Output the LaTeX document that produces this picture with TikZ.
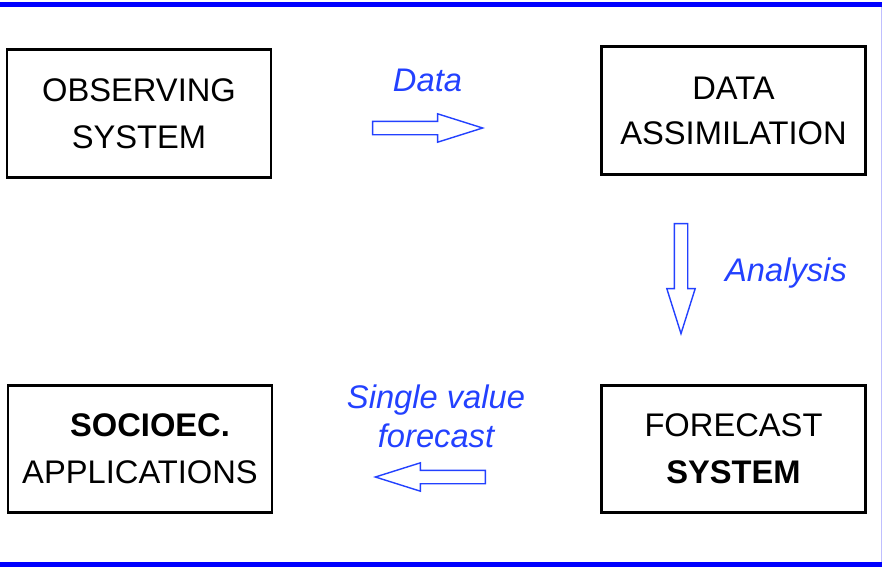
\documentclass[tikz,border=0pt]{standalone}
\usepackage{fontspec}
\setmainfont{Liberation Sans}
\usetikzlibrary{
  shapes.arrows
}
\definecolor{labelblue}{RGB}{35,65,255}

\begin{document}
\begin{tikzpicture}[
  stage/.style={draw, line width=1.6pt, minimum width=5.28cm, minimum height=2.55cm,
    align=center, font=\fontsize{18.6}{26.7}\selectfont},
  flowlabel/.style={text=labelblue, align=center, font=\fontsize{18.6}{22}\selectfont\itshape},
  flowarrow/.style={single arrow, draw=labelblue, fill=white, line width=0.8pt,
    inner xsep=0pt, inner ysep=0.12cm, minimum height=2.2cm,
    single arrow head extend=0.15cm, single arrow tip angle=35}
]
  \def\Xa{2.8};
  \def\Xb{14.67};
  \def\Ytop{9.12};
  \def\Ybot{2.38};
        \useasboundingbox (0,0) rectangle (17.64,11.36);

        % frame bands
        \fill[blue] (0,11.22) rectangle (17.64,11.32);
        \fill[blue] (0,0.02) rectangle (17.64,0.12);
        \draw[blue!25, line width=0.4pt] (17.62,0.12) -- (17.62,11.22);

        \node[stage] (obs) at (\Xa - 0.02, \Ytop - 0.03) {OBSERVING\\SYSTEM};
        \node[stage] (assim) at (\Xb, \Ytop + 0.03) {DATA\\[-1pt]ASSIMILATION};
        \node[stage] (fcst) at (\Xb, \Ybot) {FORECAST\\\textbf{SYSTEM}};
        \node[stage] (socio) at (\Xa, \Ybot) {\hspace*{0.4cm}\textbf{SOCIOEC.}\\APPLICATIONS};

        \node[flowarrow] (dataarrow) at (8.34, 8.8) {};
        \node[flowlabel, anchor=base] (datalabel) at (8.55, 9.53) {Data};

        \node[flowarrow, rotate=-90] (anaarrow) at (13.62, 6.0) {};
        \node[flowlabel, anchor=base] (analabel) at (15.72, 5.73) {Analysis};

        \node[flowarrow, rotate=180] (fcstarrow) at (8.82, 1.82) {};
        \node[flowlabel] (fcstlabel) at (8.72, 3.04) {Single value\\forecast};

\end{tikzpicture}
\end{document}
